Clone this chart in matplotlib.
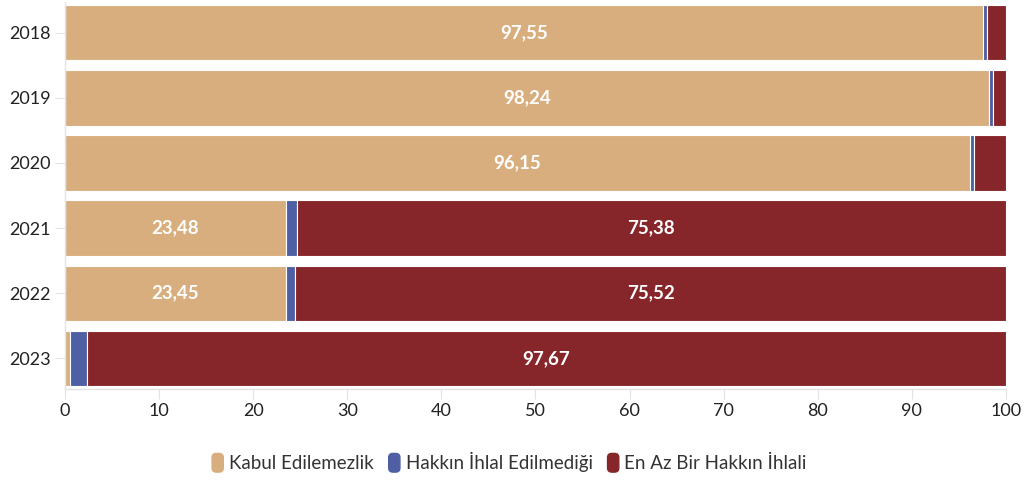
import matplotlib
matplotlib.use('Agg')
import matplotlib.pyplot as plt
from matplotlib.patches import FancyBboxPatch, Patch
from matplotlib.legend_handler import HandlerPatch
import numpy as np

years = ['2018', '2019', '2020', '2021', '2022', '2023']
kabul = [97.55, 98.24, 96.15, 23.48, 23.45, 0.53]
hakkin_yok = [0.45, 0.40, 0.50, 1.14, 1.03, 1.80]
ihlal = [2.00, 1.36, 3.35, 75.38, 75.52, 97.67]

series = ['Kabul Edilemezlik', 'Hakkın İhlal Edilmediği', 'En Az Bir Hakkın İhlali']
colors = ['#D9AE7E', '#4F5FA3', '#86262A']

plt.rcParams['font.family'] = ['Lato', 'DejaVu Sans']

fig = plt.figure(figsize=(10.25, 4.8), dpi=100)
ax = fig.add_axes([0.0634, 0.1896, 0.918, 0.806])

y = np.arange(len(years))
left = np.zeros(len(years))
for vals, name, col in zip([kabul, hakkin_yok, ihlal], series, colors):
    vals = np.array(vals)
    ax.barh(y, vals, left=left, height=0.85, color=col, edgecolor='white',
            linewidth=0.8, label=name)
    for i, v in enumerate(vals):
        if v > 10:
            ax.text(left[i] + v / 2, y[i], f'{v:.2f}'.replace('.', ','),
                    ha='center', va='center', color='white',
                    fontsize=13.5, fontweight='bold')
    left += vals

ax.set_xlim(0, 100)
ax.set_ylim(len(years) - 0.53, -0.47)
ax.set_yticks(y)
ax.set_yticklabels(years)
ax.set_xticks(np.arange(0, 101, 10))

for s in ['top', 'right']:
    ax.spines[s].set_visible(False)
for s in ['left', 'bottom']:
    ax.spines[s].set_color('#e3e3e3')
    ax.spines[s].set_linewidth(1.0)
ax.tick_params(axis='both', colors='#e3e3e3', labelcolor='#222222', labelsize=13, length=7)
ax.tick_params(axis='y', pad=3)
ax.tick_params(axis='x', pad=3)


def rounded(legend, orig_handle, xdescent, ydescent, width, height, fontsize):
    return FancyBboxPatch((-xdescent, -ydescent - 2), width, height + 4,
                          boxstyle='round,pad=0,rounding_size=3')


handles = [Patch(facecolor=c, edgecolor=c) for c in colors]
fig.legend(handles, series, loc='center', bbox_to_anchor=(0.497, 0.037), ncol=3,
           frameon=False, fontsize=13.5, labelcolor='#333333',
           handletextpad=0.3, columnspacing=0.8, handlelength=0.6, handleheight=0.7,
           handler_map={Patch: HandlerPatch(patch_func=rounded)})

plt.savefig('out.png', dpi=100)
